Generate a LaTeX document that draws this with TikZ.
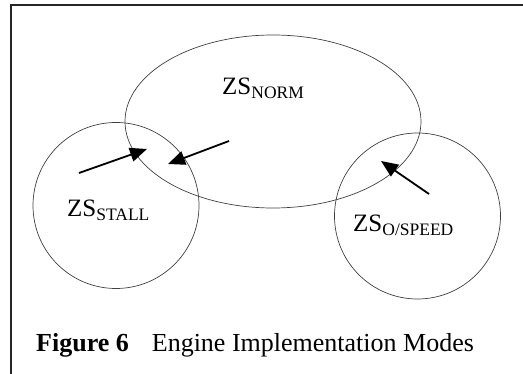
\documentclass[tikz,border=0pt]{standalone}
\usepackage{fontspec}
\setmainfont{Liberation Serif}
\usetikzlibrary{arrows.meta}
\begin{document}
\begin{tikzpicture}[x=1pt,y=-1pt,
  zone/.style={draw=black!75,line width=0.7pt},
  lbl/.style={anchor=base west,inner sep=0pt,font=\fontsize{25}{30}\selectfont},
  trans/.style={line width=1.8pt,-{Triangle[length=17pt,width=14pt]}},
  frameline/.style={draw=black!85,line width=2pt}]
  \useasboundingbox (0,0) rectangle (523,374);
  % open frame: top and left edges
  \draw[frameline] (11,374) -- (11,5) -- (523,5);
  % operating zones
  \draw[zone] (273,121.5) ellipse [x radius=148, y radius=86.5];
  \draw[zone] (116,205.5) circle [radius=83];
  \draw[zone] (417.5,216) circle [radius=83];
  % zone labels
  \node[lbl] (norm) at (222,95) {ZS\textsubscript{NORM}};
  \node[lbl] (stall) at (67,217) {ZS\textsubscript{STALL}};
  \node[lbl] (ospeed) at (353,232) {ZS\textsubscript{O/SPEED}};
  % transitions
  \coordinate (a1s) at (79,173);  \coordinate (a1e) at (147,149);
  \coordinate (a2s) at (229,141); \coordinate (a2e) at (168,164);
  \coordinate (a3s) at (429,194); \coordinate (a3e) at (381,161);
  \draw[trans] (a1s) -- (a1e);
  \draw[trans] (a2s) -- (a2e);
  \draw[trans] (a3s) -- (a3e);
  % caption
  \node[anchor=base west,inner sep=0pt,font=\fontsize{26}{31}\selectfont] (cap) at (36,352)
    {\textbf{Figure 6}\hspace{23pt}Engine Implementation Modes};
\end{tikzpicture}
\end{document}
